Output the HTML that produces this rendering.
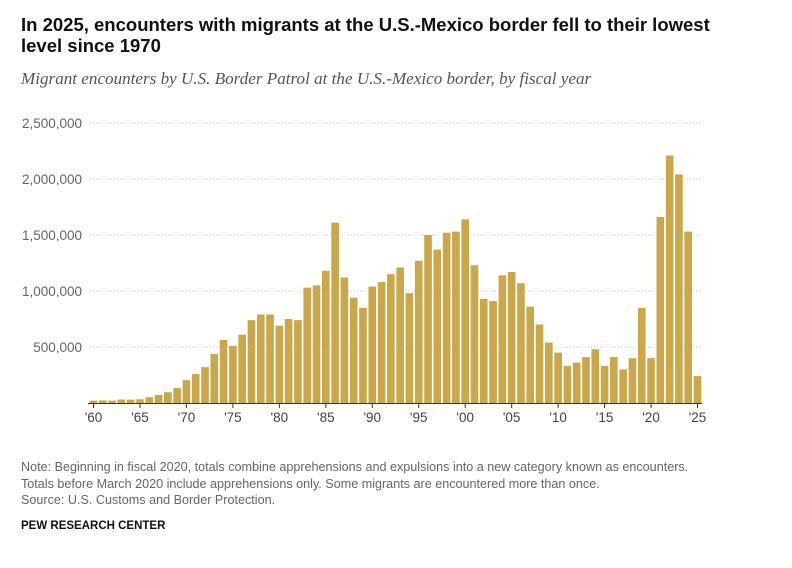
<!DOCTYPE html>
<html><head><meta charset="utf-8"><style>
body{margin:0;width:792px;height:568px;background:#fff;font-family:"Liberation Sans",sans-serif;overflow:hidden;position:relative}
.t{position:absolute;left:21px;top:14px;font-size:18.5px;font-weight:bold;color:#111;line-height:21px;width:720px}
.s{position:absolute;left:21px;top:69px;font-family:"Liberation Serif",serif;font-style:italic;font-size:17.1px;color:#555}
.n{position:absolute;left:21px;top:459px;font-size:12.6px;color:#666;line-height:16.5px}
.p{position:absolute;left:21px;top:520px;font-size:11.5px;font-weight:bold;color:#111}
svg{position:absolute;left:0;top:0}
</style></head><body>
<div class="t">In 2025, encounters with migrants at the U.S.-Mexico border fell to their lowest level since 1970</div>
<div class="s">Migrant encounters by U.S. Border Patrol at the U.S.-Mexico border, by fiscal year</div>
<svg id="c" width="792" height="568"></svg>
<div class="n">Note: Beginning in fiscal 2020, totals combine apprehensions and expulsions into a new category known as encounters.<br>Totals before March 2020 include apprehensions only. Some migrants are encountered more than once.<br>Source: U.S. Customs and Border Protection.</div>
<div class="p">PEW RESEARCH CENTER</div>
<script>
const years=[];for(let y=1960;y<=2025;y++)years.push(y);
const values=[21000,23000,21000,31000,30000,33000,51000,72000,96000,133000,204000,258000,320000,437000,563000,510000,610000,740000,790000,790000,690000,750000,740000,1030000,1050000,1180000,1610000,1120000,940000,850000,1040000,1080000,1150000,1210000,980000,1270000,1500000,1370000,1520000,1530000,1640000,1230000,930000,910000,1140000,1170000,1070000,860000,700000,540000,450000,330000,360000,410000,480000,330000,410000,300000,400000,850000,400000,1660000,2210000,2040000,1530000,240000];
const yTicks=[500000,1000000,1500000,2000000,2500000];
const yTickLabels=["500,000","1,000,000","1,500,000","2,000,000","2,500,000"];
const xTickYears=[1960,1965,1970,1975,1980,1985,1990,1995,2000,2005,2010,2015,2020,2025];
const xTickLabels=["'60","'65","'70","'75","'80","'85","'90","'95","'00","'05","'10","'15","'20","'25"];
const svg=document.getElementById('c');const NS="http://www.w3.org/2000/svg";
const base=403,plotTop=123,maxV=2500000,x0=93.5,step=(697.5-93.5)/65,bw=7.6;
const yS=v=>base-(v/maxV)*(base-plotTop);
const xS=y=>x0+(y-1960)*step;
function mk(t,a){const e=document.createElementNS(NS,t);for(const k in a)e.setAttribute(k,a[k]);svg.appendChild(e);return e;}
yTicks.forEach((v,i)=>{
 const g=mk('line',{x1:90,x2:700,y1:yS(v),y2:yS(v),stroke:'#bbb','stroke-width':0.8,'stroke-dasharray':'1,2'});
 
 
 const t=mk('text',{x:82,y:yS(v)+5,'text-anchor':'end','font-size':13.5,fill:'#666','font-family':'Liberation Sans'});
 t.textContent=yTickLabels[i];
 
 
});
values.forEach((v,i)=>{
 const r=mk('rect',{x:xS(years[i])-bw/2,y:yS(v),width:bw,height:base-yS(v),fill:'#c9a74a'});
 
 
});
const ax=mk('line',{x1:88,x2:702,y1:base+0.5,y2:base+0.5,stroke:'#333','stroke-width':1});


xTickYears.forEach((y,i)=>{
 const tk=mk('line',{x1:xS(y),x2:xS(y),y1:base,y2:base+5,stroke:'#333'});
 
 
 const t=mk('text',{x:xS(y),y:base+19,'text-anchor':'middle','font-size':13.5,fill:'#444','font-family':'Liberation Sans'});
 t.textContent=xTickLabels[i];
 
 
});
</script>
</body></html>
